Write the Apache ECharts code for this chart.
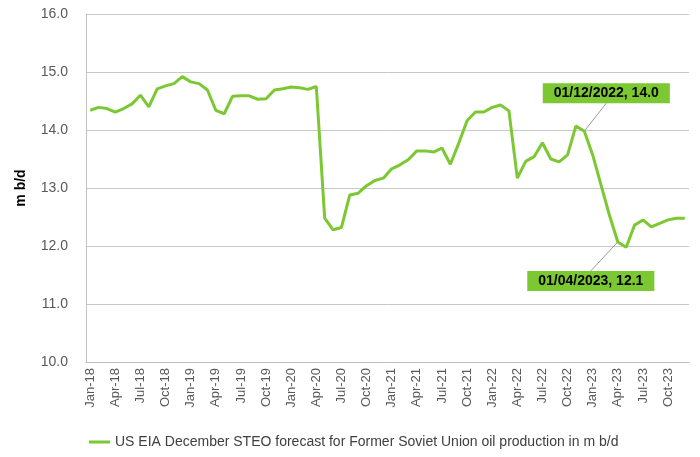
<!DOCTYPE html>
<html>
<head>
<meta charset="utf-8">
<script src="https://cdn.jsdelivr.net/npm/echarts@6/dist/echarts.min.js"></script>
<style>html,body{margin:0;padding:0;background:#fff;}</style>
</head>
<body>
<div id="main" style="width:700px;height:457px;"></div>
<script>
// month tick labels
var months = ['Jan','Feb','Mar','Apr','May','Jun','Jul','Aug','Sep','Oct','Nov','Dec'];
var years = ['18','19','20','21','22','23'];
var categories = [];
years.forEach(function (y) {
	months.forEach(function (m) { categories.push(m + '-' + y); });
});

// FSU oil production, m b/d
var production = [
	14.34, 14.39, 14.37, 14.31, 14.37, 14.45, 14.60, 14.40, 14.71, 14.76, 14.80, 14.92,
	14.83, 14.80, 14.69, 14.34, 14.28, 14.58, 14.59, 14.59, 14.53, 14.54, 14.69, 14.71,
	14.74, 14.73, 14.70, 14.75, 12.48, 12.28, 12.32, 12.88, 12.91, 13.04, 13.13, 13.17,
	13.33, 13.40, 13.49, 13.64, 13.64, 13.62, 13.69, 13.41, 13.77, 14.16, 14.31, 14.31,
	14.39, 14.43, 14.33, 13.17, 13.46, 13.54, 13.78, 13.50, 13.45, 13.57, 14.07, 13.98,
	13.57, 13.05, 12.53, 12.07, 11.98, 12.36, 12.45, 12.33, 12.39, 12.45, 12.48, 12.48
];

// annotated points
var notes = [
	{ index: 59, text: '01/12/2022, 14.0', position: 'top', dx: 22, dy: -23 },
	{ index: 63, text: '01/04/2023, 12.1', position: 'bottom', dx: -27, dy: 24 }
];
var labelDist = 5;

var green = '#7cc832';
var seriesName = 'US EIA December STEO forecast for Former Soviet Union oil production in m b/d';

function noteFor(i) {
	return notes.filter(function (n) { return n.index === i; })[0];
}

var seriesData = production.map(function (v, i) {
	var note = noteFor(i);
	if (!note) return v;
	return {
		value: v,
		label: {
			show: true,
			position: note.position,
			distance: labelDist,
			formatter: note.text,
			backgroundColor: green,
			color: '#000',
			fontWeight: 'bold',
			fontSize: 14,
			fontFamily: 'Liberation Sans',
			padding: [3, 11, 3, 11]
		}
	};
});

var myChart = echarts.init(document.getElementById('main'));

var option = {
	animation: false,
	grid: { left: 86, right: 11, top: 14, bottom: 95 },
	legend: {
		left: 84,
		top: 430,
		icon: 'rect',
		itemWidth: 21,
		itemHeight: 3,
		itemGap: 5,
		textStyle: { fontSize: 14, color: '#404040', fontFamily: 'Liberation Sans' },
		data: [seriesName]
	},
	xAxis: {
		type: 'category',
		data: categories,
		boundaryGap: true,
		axisLine: { lineStyle: { color: '#bfbfbf' } },
		axisTick: { interval: 2, length: 5, lineStyle: { color: '#bfbfbf' } },
		axisLabel: {
			interval: 2,
			rotate: 90,
			fontSize: 13,
			color: '#595959',
			fontFamily: 'Liberation Sans',
			margin: 6
		}
	},
	yAxis: {
		type: 'value',
		min: 10,
		max: 16,
		interval: 1,
		name: 'm b/d',
		nameLocation: 'middle',
		nameRotate: 90,
		nameGap: 58,
		nameTextStyle: { fontSize: 14, fontWeight: 'bold', color: '#000', fontFamily: 'Liberation Sans' },
		axisLine: { show: true, lineStyle: { color: '#bfbfbf' } },
		splitLine: { show: true, lineStyle: { color: '#c8c8c8' } },
		axisLabel: {
			formatter: function (v) { return v.toFixed(1); },
			fontSize: 14,
			color: '#595959',
			fontFamily: 'Liberation Sans',
			margin: 18
		}
	},
	series: [{
		name: seriesName,
		type: 'line',
		data: seriesData,
		symbol: 'circle',
		symbolSize: 0,
		showSymbol: true,
		lineStyle: { color: green, width: 3 },
		itemStyle: { color: green },
		labelLayout: function (params) {
			var note = noteFor(params.dataIndex);
			if (!note) return {};
			return { dx: note.dx, dy: note.dy };
		}
	}]
};

myChart.setOption(option);

// leader lines: from the data point to the middle of the label's near edge
var leaders = notes.map(function (n) {
	var p = myChart.convertToPixel({ seriesIndex: 0 }, [n.index, production[n.index]]);
	var sign = n.position === 'top' ? -1 : 1;
	return {
		type: 'line',
		silent: true,
		z: 1,
		shape: { x1: p[0], y1: p[1], x2: p[0] + n.dx, y2: p[1] + sign * labelDist + n.dy },
		style: { stroke: '#999', lineWidth: 1 }
	};
});
myChart.setOption({ graphic: leaders });
</script>
</body>
</html>
